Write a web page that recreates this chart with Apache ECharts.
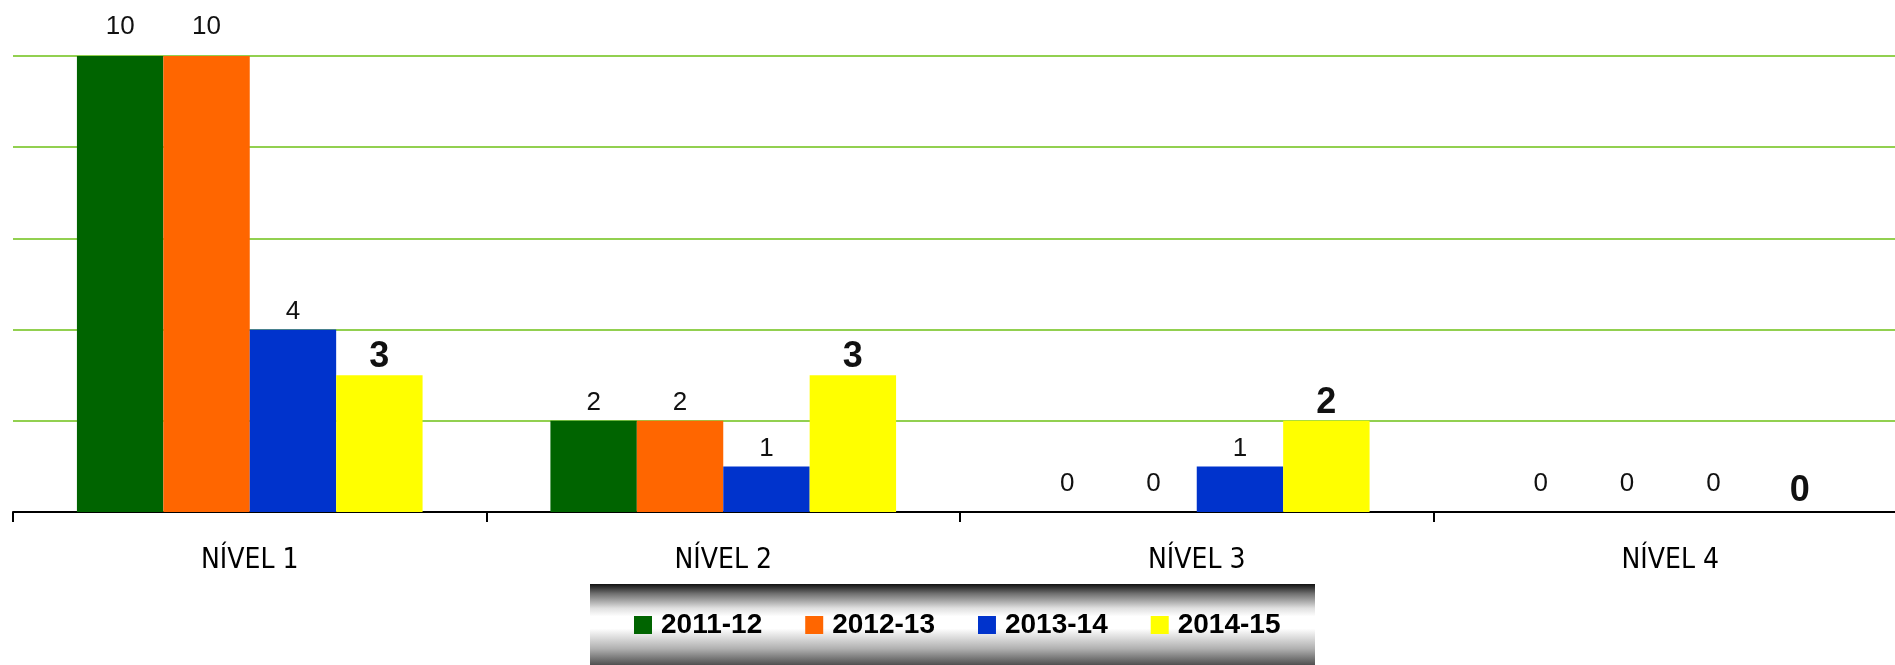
<!DOCTYPE html>
<html>
<head>
<meta charset="utf-8">
<script src="https://cdn.jsdelivr.net/npm/echarts@6/dist/echarts.min.js"></script>
<style>
  html, body { margin: 0; padding: 0; background: #fff; }
  #chartBox { width: 1895px; height: 665px; }
</style>
</head>
<body>
<div id="chartBox"></div>
<script>
// datos del gráfico
var niveles = ["NÍVEL 1", "NÍVEL 2", "NÍVEL 3", "NÍVEL 4"];
var cursos = ["2011-12", "2012-13", "2013-14", "2014-15"];
var curso2011 = [10, 2, 0, 0];
var curso2012 = [10, 2, 0, 0];
var curso2013 = [4, 1, 1, 0];
var curso2014 = [3, 3, 2, 0];

var colores = ["#006400", "#ff6600", "#0033cc", "#ffff00"];
var fuente = "'Liberation Sans', Arial, sans-serif";
var fuenteEje = "'DejaVu Sans Condensed', 'Liberation Sans', sans-serif";

// etiquetas pequeñas (las tres primeras series)
function datosPeq(valores) {
  return valores.map(function (v) {
    var d = 5;
    if (v === 0) d = 15;
    if (v >= 10) d = 16;
    return { value: v, label: { distance: d } };
  });
}
// etiquetas grandes (última serie)
function datosGrandes(valores) {
  return valores.map(function (v) {
    return { value: v, label: { distance: v === 0 ? 3 : 0 } };
  });
}

var etiquetaPeq = {
  show: true,
  position: "top",
  color: "#111",
  fontFamily: fuente,
  fontSize: 26,
};
var etiquetaGrande = {
  show: true,
  position: "top",
  color: "#111",
  fontFamily: fuente,
  fontSize: 36,
  fontWeight: "bold",
};

var myChart = echarts.init(document.getElementById("chartBox"));

var option = {
  backgroundColor: "#fff",
  animation: false,
  color: colores,
  grid: {
    left: 13,
    top: 56,
    width: 1894,
    bottom: 153,
    containLabel: false,
    outerBoundsMode: "none",
  },
  graphic: [
    {
      // fondo degradado de la leyenda
      type: "rect",
      left: 590,
      top: 584,
      z: -1,
      shape: { width: 725, height: 81 },
      style: {
        fill: new echarts.graphic.LinearGradient(0, 0, 0, 1, [
          { offset: 0, color: "#111" },
          { offset: 0.12, color: "#707070" },
          { offset: 0.3, color: "#e0e0e0" },
          { offset: 0.4, color: "#fff" },
          { offset: 0.55, color: "#fff" },
          { offset: 0.8, color: "#b0b0b0" },
          { offset: 1, color: "#505050" },
        ]),
      },
    },
  ],
  legend: {
    data: cursos,
    left: 634,
    top: 611,
    padding: 0,
    icon: "rect",
    itemWidth: 18,
    itemHeight: 18,
    itemGap: 43,
    textStyle: {
      fontFamily: fuente,
      fontSize: 28,
      fontWeight: "bold",
      color: "#000",
      padding: [0, 0, 0, 4],
    },
  },
  xAxis: {
    type: "category",
    data: niveles,
    axisLine: { lineStyle: { color: "#000", width: 2 } },
    axisTick: { show: true, length: 10, lineStyle: { color: "#000", width: 2 } },
    axisLabel: {
      color: "#000",
      fontFamily: fuenteEje,
      fontSize: 28,
      margin: 35,
    },
  },
  yAxis: {
    type: "value",
    min: 0,
    max: 10,
    interval: 2,
    axisLabel: { show: false },
    axisLine: { show: false },
    axisTick: { show: false },
    splitLine: { lineStyle: { color: "#92d050", width: 2 } },
  },
  series: [
    { name: cursos[0], type: "bar", barGap: "0%", barCategoryGap: "27%", data: datosPeq(curso2011), label: etiquetaPeq },
    { name: cursos[1], type: "bar", barGap: "0%", barCategoryGap: "27%", data: datosPeq(curso2012), label: etiquetaPeq },
    { name: cursos[2], type: "bar", barGap: "0%", barCategoryGap: "27%", data: datosPeq(curso2013), label: etiquetaPeq },
    { name: cursos[3], type: "bar", barGap: "0%", barCategoryGap: "27%", data: datosGrandes(curso2014), label: etiquetaGrande },
  ],
};

myChart.setOption(option);
</script>
</body>
</html>
